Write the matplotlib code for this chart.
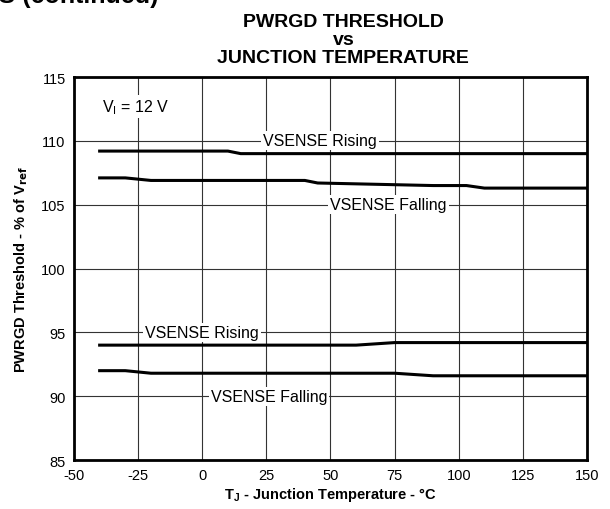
import matplotlib.pyplot as plt

plt.rcParams['font.family'] = ['Liberation Sans', 'DejaVu Sans']
plt.rcParams['axes.unicode_minus'] = False

# temperature (°C) and threshold (% of Vref)
t_hi_rise = [-40, 10, 15, 150]
v_hi_rise = [109.2, 109.2, 109.0, 109.0]
t_hi_fall = [-40, -30, -20, 40, 45, 90, 103, 110, 150]
v_hi_fall = [107.1, 107.1, 106.9, 106.9, 106.7, 106.5, 106.5, 106.3, 106.3]
t_lo_rise = [-40, 60, 75, 150]
v_lo_rise = [94.0, 94.0, 94.2, 94.2]
t_lo_fall = [-40, -30, -20, 75, 90, 150]
v_lo_fall = [92.0, 92.0, 91.8, 91.8, 91.6, 91.6]

x_ticks = [-50, -25, 0, 25, 50, 75, 100, 125, 150]
y_ticks = [85, 90, 95, 100, 105, 110, 115]

fig = plt.figure(figsize=(6.1, 5.1), dpi=100)
ax = fig.add_axes([0.1213, 0.096, 0.841, 0.751])

for t, v in [(t_hi_rise, v_hi_rise), (t_hi_fall, v_hi_fall),
             (t_lo_rise, v_lo_rise), (t_lo_fall, v_lo_fall)]:
    ax.plot(t, v, color='black', lw=2.2, zorder=3)

ax.set_xlim(-50, 150)
ax.set_ylim(85, 115)
ax.set_xticks(x_ticks)
ax.set_yticks(y_ticks)
ax.grid(True, color='#333333', lw=0.8)
ax.tick_params(length=0, labelsize=10.5, pad=6)
for s in ax.spines.values():
    s.set_linewidth(2)

box = dict(facecolor='white', edgecolor='none', pad=1.5)
fs = 11.5
ax.text(46, 110, 'VSENSE Rising', ha='center', va='center', fontsize=fs, bbox=box, zorder=4)
ax.text(72.5, 105, 'VSENSE Falling', ha='center', va='center', fontsize=fs, bbox=box, zorder=4)
ax.text(0, 95, 'VSENSE Rising', ha='center', va='center', fontsize=fs, bbox=box, zorder=4)
ax.text(26, 90, 'VSENSE Falling', ha='center', va='center', fontsize=fs, bbox=box, zorder=4)
ax.text(-39, 112.7, r'V$_\mathregular{I}$ = 12 V', ha='left', va='center', fontsize=fs, bbox=box, zorder=4)

ax.set_xlabel(r'T$_\mathregular{J}$ - Junction Temperature - °C', fontsize=10.5, fontweight='bold', labelpad=2)
ax.set_ylabel(r'PWRGD Threshold - % of V$_\mathbf{ref}$', fontsize=10.5, fontweight='bold', labelpad=8)

fig.text(0.563, 0.868, 'PWRGD THRESHOLD\nvs\nJUNCTION TEMPERATURE', ha='center', va='bottom',
         fontsize=14, fontweight='bold', linespacing=1.1)
# section header, cut off at the top edge as in the source page
fig.text(0.26, 0.994, 'TYPICAL CHARACTERISTICS (continued)', ha='right', va='baseline',
         fontsize=18, fontweight='bold')

fig.savefig('out.png', dpi=100)
